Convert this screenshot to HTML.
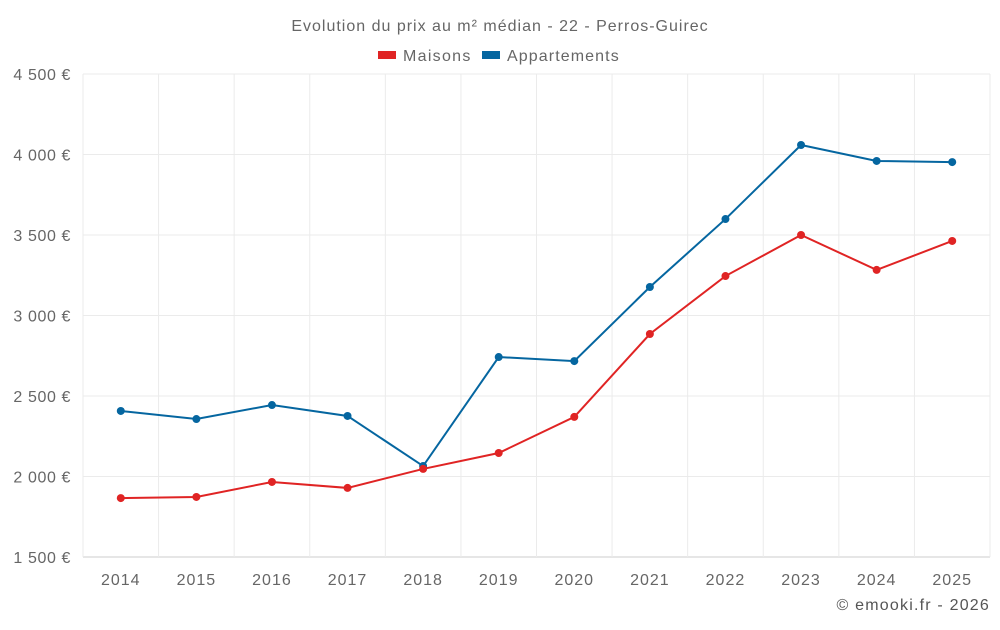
<!DOCTYPE html>
<html><head><meta charset="utf-8"><style>
body{margin:0;background:#fff;font-family:"Liberation Sans",sans-serif;}
svg text{font-family:"Liberation Sans",sans-serif;}
</style></head><body>
<svg id="chart" width="1000" height="625" xmlns="http://www.w3.org/2000/svg">
<text x="500" y="31" text-anchor="middle" font-size="16" fill="#666" letter-spacing="1">Evolution du prix au m² médian - 22 - Perros-Guirec</text>
<g>
<g><rect x="378" y="51" width="18" height="8" fill="#e02424"/><text x="403" y="61" font-size="16" fill="#666" letter-spacing="1.3">Maisons</text></g>
<g><rect x="482" y="51" width="18" height="8" fill="#0566a0"/><text x="507" y="61" font-size="16" fill="#666" letter-spacing="1.1">Appartements</text></g>
</g>
<g id="grid"></g><g id="axes"></g><g id="series"></g>
<text x="990" y="610" text-anchor="end" font-size="16" fill="#555" letter-spacing="1.2">© emooki.fr - 2026</text>
</svg>
<script>
const years=[2014,2015,2016,2017,2018,2019,2020,2021,2022,2023,2024,2025];
const maisons=[1866,1873,1966,1929,2047,2146,2370,2885,3245,3500,3283,3463];
const appartements=[2407,2357,2444,2376,2065,2742,2717,3177,3599,4059,3960,3953];
const yTicks=[1500,2000,2500,3000,3500,4000,4500];
const yTickLabels=["1 500 €","2 000 €","2 500 €","3 000 €","3 500 €","4 000 €","4 500 €"];
const L=83,R=990,T=74,B=557,ymin=1500,ymax=4500;
const band=(R-L)/years.length;
const x=i=>L+band*(i+0.5);
const y=v=>B-(v-ymin)/(ymax-ymin)*(B-T);
const NS="http://www.w3.org/2000/svg";
function mk(tag,attrs,parent){const e=document.createElementNS(NS,tag);for(const k in attrs)e.setAttribute(k,attrs[k]);document.getElementById(parent).appendChild(e);return e;}
yTicks.forEach((t,i)=>{
 const g=mk('line',{x1:L,x2:R,y1:y(t),y2:y(t),stroke:i==0?'#ccc':'#ebebeb','stroke-width':1},'grid');
 
 
 const tx=mk('text',{x:71,y:y(t)+6,'text-anchor':'end','font-size':16,fill:'#666','letter-spacing':0.6},'axes');
 tx.textContent=yTickLabels[i];
 
 
});
for(let i=0;i<=years.length;i++){
 const g=mk('line',{x1:L+band*i,x2:L+band*i,y1:T,y2:B,stroke:'#ebebeb','stroke-width':1},'grid');
 
 
}
years.forEach((yr,i)=>{
 const tx=mk('text',{x:x(i),y:585,'text-anchor':'middle','font-size':16,fill:'#666','letter-spacing':1},'axes');
 tx.textContent=yr;
 
 
});
function series(data,color,name){
 const p=mk('polyline',{points:data.map((v,i)=>x(i)+','+y(v)).join(' '),fill:'none',stroke:color,'stroke-width':2},'series');
 
 
 data.forEach((v,i)=>{
  const c=mk('circle',{cx:x(i),cy:y(v),r:4,fill:color},'series');
  
  
 });
}
series(appartements,'#0566a0','appartements');
series(maisons,'#e02424','maisons');
</script>
</body></html>
